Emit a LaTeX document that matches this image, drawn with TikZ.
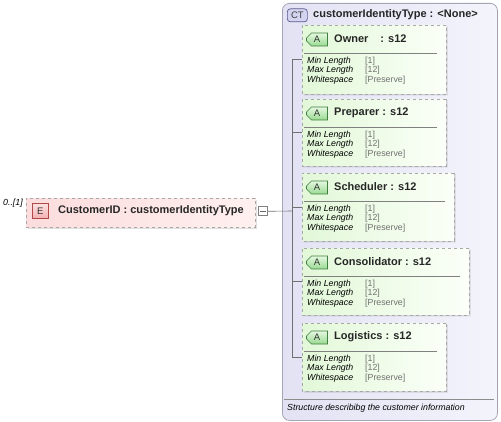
\documentclass[tikz,border=0pt]{standalone}
\usepackage{fontspec}
\setmainfont{Liberation Sans}
\usetikzlibrary{shapes.misc,shapes.symbols,calc,shadows}
\definecolor{ctleft}{HTML}{E2E2F4}
\definecolor{ctright}{HTML}{F4F4FC}
\definecolor{ctborder}{HTML}{A4A4B4}
\definecolor{attrleft}{HTML}{E2F8D8}
\definecolor{attrright}{HTML}{FBFFF8}
\definecolor{dashgray}{HTML}{A8A8A8}
\definecolor{elleft}{HTML}{FCDCDC}
\definecolor{elright}{HTML}{FFF0F0}
\definecolor{abadgetop}{HTML}{E4F8E0}
\definecolor{abadgebot}{HTML}{9ADA92}
\definecolor{abadgedraw}{HTML}{3E7E3E}
\definecolor{ebadgetop}{HTML}{FCE0E0}
\definecolor{ebadgebot}{HTML}{F4B0B0}
\definecolor{ebadgedraw}{HTML}{B04848}
\definecolor{ctbadgefill}{HTML}{D4D4F0}
\definecolor{ctbadgedraw}{HTML}{5A5A90}
\definecolor{valgray}{HTML}{707070}
\definecolor{linegray}{HTML}{707070}
\newcommand{\attrbox}[6]{%
  \pgfmathsetmacro\bw{#4-#2}\pgfmathsetmacro\bh{#5-#3}%
  \node[attrshape, minimum width=\bw pt, minimum height=\bh pt, anchor=north west] (#1) at (#2,#3) {};
  \node[abadge] (#1A) at ($(#1.north west)+(15,14.5)$) {A};
  \node[atitle, anchor=west] (#1T) at ($(#1.north west)+(32,13.5)$) {#6};
  \draw[sepline] ($(#1.north west)+(2,28)$) -- ($(#1.north east)+(-9,28)$);
  \node[plabel] (#1L1) at ($(#1.north west)+(5,36)$) {Min Length};
  \node[plabel] (#1L2) at ($(#1.north west)+(5,45.5)$) {Max Length};
  \node[plabel] (#1L3) at ($(#1.north west)+(5,55.5)$) {Whitespace};
  \node[pvalue] (#1V1) at ($(#1.north west)+(63,36)$) {[1]};
  \node[pvalue] (#1V2) at ($(#1.north west)+(63,45.5)$) {[12]};
  \node[pvalue] (#1V3) at ($(#1.north west)+(63,55.5)$) {[Preserve]};
}
\begin{document}
\begin{tikzpicture}[x=1pt,y=-1pt,
  attrshape/.style={chamfered rectangle, chamfered rectangle corners={north west,south west,north east},
    chamfered rectangle xsep=5pt, chamfered rectangle ysep=5pt, inner sep=0pt, outer sep=0pt,
    draw=dashgray, dashed, line width=0.6pt, left color=attrleft, right color=attrright,
    drop shadow={shadow xshift=1.5pt, shadow yshift=-1.5pt, opacity=0.25}},
  abadge/.style={chamfered rectangle, chamfered rectangle corners={north west,south west},
    chamfered rectangle xsep=2.5pt, chamfered rectangle ysep=2.5pt,
    draw=abadgedraw, top color=abadgetop, bottom color=abadgebot,
    line width=0.6pt, minimum width=21pt, minimum height=13pt, inner sep=0pt,
    font=\fontsize{9.5}{10}\selectfont, text=black!80},
  atitle/.style={inner sep=0pt, font=\fontsize{11}{13}\selectfont\bfseries, text=black!85},
  sepline/.style={draw=black!50, line width=0.6pt},
  plabel/.style={anchor=west, inner sep=0pt, font=\fontsize{8.8}{10}\selectfont\itshape, text=black},
  pvalue/.style={anchor=west, inner sep=0pt, font=\fontsize{8.8}{10}\selectfont, text=valgray},
  conn/.style={draw=linegray, line width=0.6pt}]
\useasboundingbox (0,0) rectangle (501,422);
% complex type container
\node[draw=ctborder, line width=0.8pt, rounded corners=7pt, left color=ctleft, right color=ctright,
  minimum width=215pt, minimum height=417pt, anchor=north west, inner sep=0pt] (ct) at (282,3) {};
\node[draw=ctbadgedraw, fill=ctbadgefill, rounded corners=3pt, line width=0.7pt, minimum width=20pt,
  minimum height=13pt, inner sep=0pt, anchor=north west, font=\fontsize{9.5}{10}\selectfont, text=black!75] (ctb) at (287,8.5) {CT};
\node[atitle, anchor=west] (ctt) at (313,14.5) {customerIdentityType : <None>};
% attributes
\attrbox{owner}{302}{25}{446}{94}{Owner\hspace{12pt}: s12}
\attrbox{prep}{302}{99}{446}{166}{Preparer : s12}
\attrbox{sched}{302}{173}{454}{241}{Scheduler : s12}
\attrbox{cons}{302}{248}{469}{315}{Consolidator : s12}
\attrbox{logi}{302}{323}{446}{391}{Logistics : s12}
% description
\coordinate (dl) at (284,399);
\coordinate (dr) at (494,399);
\draw[draw=black!45, line width=0.6pt] (dl) -- (dr);
\node[anchor=west, inner sep=0pt, font=\fontsize{8.8}{10}\selectfont\itshape] (desc) at (287,408) {Structure describibg the customer information};
% element
\node[anchor=west, inner sep=0pt, font=\fontsize{8.8}{10}\selectfont\itshape] (card) at (3,203) {0..[1]};
\node[draw=dashgray, dashed, line width=0.6pt, left color=elleft, right color=elright, minimum width=229pt,
  minimum height=29pt, inner sep=0pt, anchor=north west,
  drop shadow={shadow xshift=1.5pt, shadow yshift=-1.5pt, opacity=0.25}] (el) at (26,198) {};
\node[draw=ebadgedraw, top color=ebadgetop, bottom color=ebadgebot, line width=0.6pt, minimum width=16pt, minimum height=15pt, inner sep=0pt,
  anchor=north west, font=\fontsize{9.5}{10}\selectfont, text=black!80] (eb) at (32,203.5) {E};
\node[atitle, anchor=west] (elt) at (58,211) {CustomerID : customerIdentityType};
\node[draw=black!50, fill=white, line width=0.6pt, minimum width=9pt, minimum height=9pt, inner sep=0pt,
  anchor=north west] (sq) at (258,206.5) {};
\draw[draw=black!60, line width=0.6pt] ($(sq.west)+(2,0)$) -- ($(sq.east)+(-2,0)$);
% connectors
\coordinate (hub) at (292,211);
\draw[conn] (sq.east) -- (hub);
\draw[conn] (owner.west -| hub) -- (logi.west -| hub);
\draw[conn] (owner.west -| hub) -- (owner.west);
\draw[conn] (prep.west -| hub) -- (prep.west);
\draw[conn] (sched.west -| hub) -- (sched.west);
\draw[conn] (cons.west -| hub) -- (cons.west);
\draw[conn] (logi.west -| hub) -- (logi.west);
\end{tikzpicture}
\end{document}
